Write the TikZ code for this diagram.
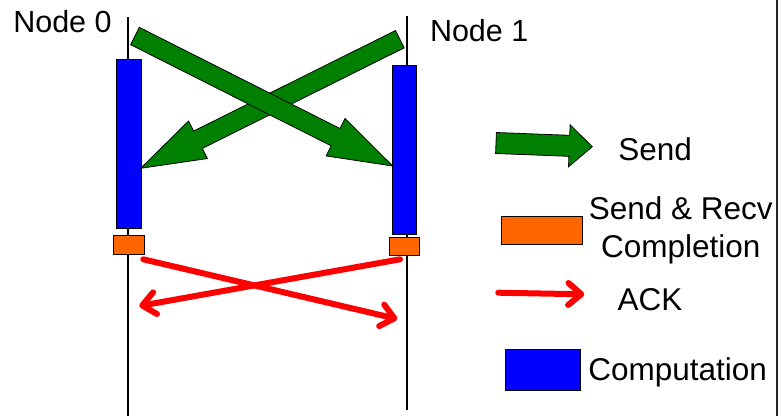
\documentclass[tikz,border=0pt]{standalone}
\usepackage{fontspec}
\setmainfont{Liberation Sans}
\usetikzlibrary{calc,arrows.meta}
\definecolor{sendgreen}{RGB}{0,128,0}
\definecolor{complorange}{RGB}{255,102,0}
\definecolor{compblue}{RGB}{0,0,255}
\definecolor{ackred}{RGB}{255,0,0}
\tikzset{
  lifeline/.style={line width=2.5pt,black},
  compbox/.style={draw=black,line width=1pt,fill=compblue,inner sep=0pt,outer sep=0pt},
  complbox/.style={draw=black,line width=1pt,fill=complorange,inner sep=0pt,outer sep=0pt},
  sendarrow/.style={draw=black,line width=0.8pt,fill=sendgreen,line join=miter},
  ackarrow/.style={draw=ackred,line width=6pt,line cap=round,-{Straight Barb[round,length=13pt,width=22pt]}},
  lbl/.style={inner sep=0pt,outer sep=0pt,font=\fontsize{31.5}{38}\selectfont},
  nodelbl/.style={inner sep=0pt,outer sep=0pt,font=\fontsize{30.5}{36}\selectfont}
}
\newcommand{\blockarrow}[5]{%
  \coordinate (bah) at ($(#2)!#5!(#1)$);
  \draw[sendarrow] ($(#1)!#3!90:(#2)$) -- ($(bah)!#3!-90:(#1)$) -- ($(bah)!#4!-90:(#1)$)
    -- (#2) -- ($(bah)!#4!90:(#1)$) -- ($(bah)!#3!90:(#1)$) -- ($(#1)!#3!-90:(#2)$) -- cycle;
}
\begin{document}
\begin{tikzpicture}[x=1pt,y=-1pt]
\useasboundingbox (0,0) rectangle (781,416);
% right border line
\coordinate (rb0) at (776.7,0);
\coordinate (rb1) at (776.7,416);
\draw[line width=2pt,black!85] (rb0) -- (rb1);
% lifelines
\coordinate (l0t) at (128,17);
\coordinate (l0b) at (128,416);
\coordinate (l1t) at (407,16);
\coordinate (l1b) at (407,410);
\draw[lifeline] (l0t) -- (l0b);
\draw[lifeline] (l1t) -- (l1b);
% labels
\node[nodelbl,anchor=base west] (n0) at (13.3,32) {Node 0};
\node[nodelbl,anchor=base west] (n1) at (430,41.7) {Node 1};
% computation bars
\node[compbox,minimum width=24.6pt,minimum height=169.4pt] (c0) at (129,144) {};
\node[compbox,minimum width=24pt,minimum height=169.3pt] (c1) at (404.7,149.7) {};
% completion boxes
\node[complbox,minimum width=31pt,minimum height=18.6pt] (o0) at (128.8,245) {};
\node[complbox,minimum width=30.3pt,minimum height=18pt] (o1) at (404.2,246.3) {};
% send arrows
\coordinate (s0a) at (399.8,39.2);
\coordinate (s0b) at (140.7,168.3);
\coordinate (s1a) at (135,36);
\coordinate (s1b) at (392.7,166);
\blockarrow{s0a}{s0b}{9.7pt}{21pt}{64pt}
\blockarrow{s1a}{s1b}{9.7pt}{21pt}{64pt}
% ack arrows
\coordinate (a0a) at (143.3,259.3);
\coordinate (a0b) at (397.3,319);
\coordinate (a1a) at (400,259.3);
\coordinate (a1b) at (139.3,306);
\draw[ackarrow] (a0a) -- (a0b);
\draw[ackarrow] (a1a) -- (a1b);
% legend
\coordinate (lga) at (496,143);
\coordinate (lgb) at (592.3,146.7);
\blockarrow{lga}{lgb}{10.5pt}{21pt}{23pt}
\node[lbl,anchor=base west] (tsend) at (618.3,160.7) {Send};
\node[complbox,minimum width=81pt,minimum height=28pt] (lo) at (541.8,230) {};
\node[lbl,anchor=base] (tsr1) at (680.7,219.3) {Send \& Recv};
\node[lbl,anchor=base] (tsr2) at (680.7,257.3) {Completion};
\coordinate (lra) at (498.3,292.7);
\coordinate (lrb) at (584.3,294.3);
\draw[ackarrow] (lra) -- (lrb);
\node[lbl,anchor=base west] (tack) at (617.7,310) {ACK};
\node[compbox,minimum width=75pt,minimum height=41pt] (lb) at (543.2,369.5) {};
\node[lbl,anchor=base west] (tcomp) at (588.3,380.7) {Computation};
\end{tikzpicture}
\end{document}
